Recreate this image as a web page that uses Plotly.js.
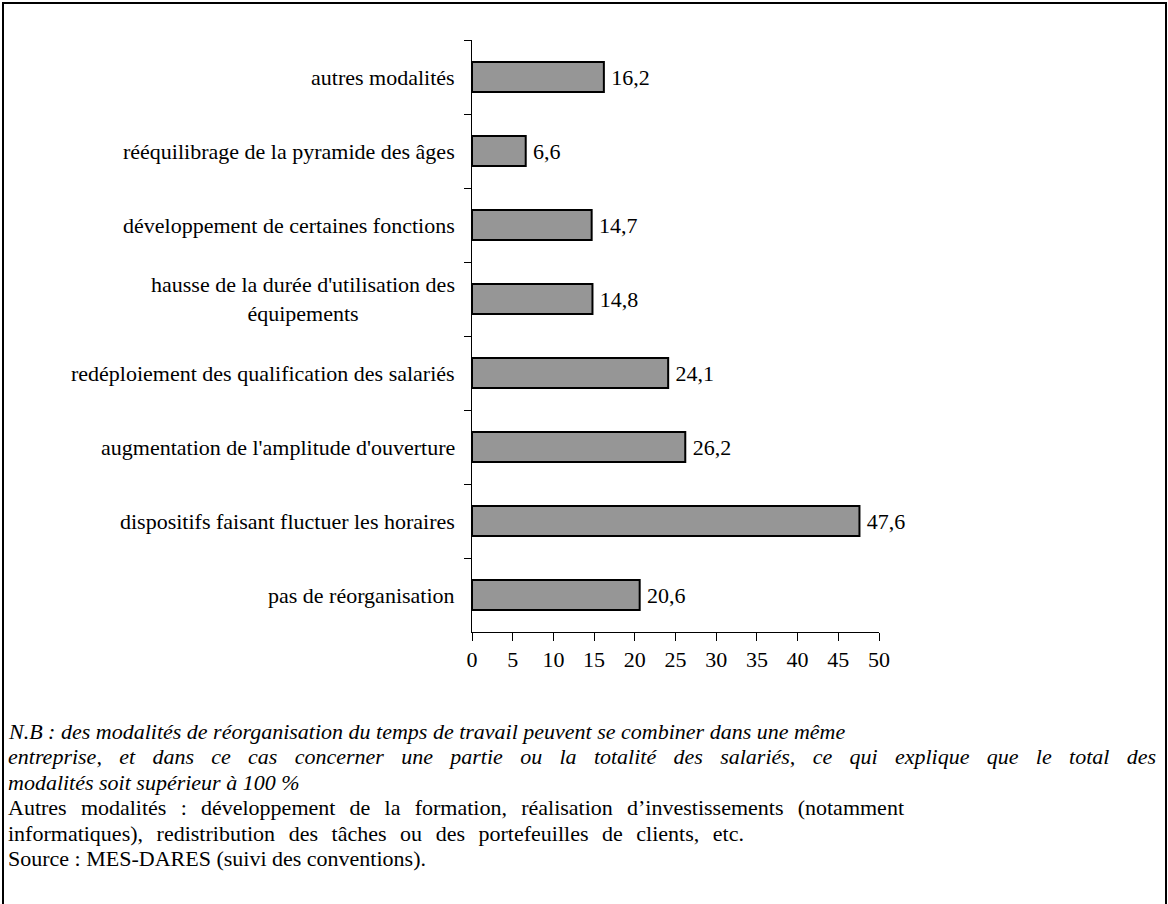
<!DOCTYPE html>
<html>
<head>
<meta charset="utf-8">
<script src="https://cdn.plot.ly/plotly-3.0.1.min.js"></script>
<style>html,body{margin:0;padding:0;background:#fff;}#chart{width:1168px;height:904px;}</style>
</head>
<body>
<div id="chart"></div>
<script>
// Categories, top to bottom
const categories = [
  "autres modalités",
  "rééquilibrage de la pyramide des âges",
  "développement de certaines fonctions",
  "hausse de la durée d'utilisation des<br>équipements",
  "redéploiement des qualification des salariés",
  "augmentation de l'amplitude d'ouverture",
  "dispositifs faisant fluctuer les horaires",
  "pas de réorganisation"
];
const values = [16.2, 6.6, 14.7, 14.8, 24.1, 26.2, 47.6, 20.6];
const xTicks = [0, 5, 10, 15, 20, 25, 30, 35, 40, 45, 50];
const noteLines = [
  "<i>N.B : des modalités de réorganisation du temps de travail peuvent se combiner dans une même</i>",
  "<i>entreprise, et dans ce cas concerner une partie ou la totalité des salariés, ce qui explique que le total des</i>",
  "<i>modalités soit supérieur à 100 %</i>",
  "Autres modalités : développement de la formation, réalisation d’investissements (notamment",
  "informatiques), redistribution des tâches ou des portefeuilles de clients, etc.",
  "Source : MES-DARES (suivi des conventions)."
];

const FONT = "Liberation Serif";
const L = 472, R = 879, T = 40, B = 632;
const pw = R - L, ph = B - T;
const px2x = p => (p - L) / pw;
const py2y = p => (B - p) / ph;

const labels = values.map(v => '\u2009' + v.toFixed(1).replace('.', ','));

const trace = {
  type: 'bar',
  orientation: 'h',
  x: values,
  y: categories,
  text: labels,
  textposition: 'outside',
  cliponaxis: false,
  textfont: {family: FONT, size: 22, color: '#000'},
  marker: {color: '#969696', line: {color: '#000', width: 2}},
  hoverinfo: 'none'
};

const annotations = [];
categories.forEach(c => {
  annotations.push({
    xref: 'paper', yref: 'y', x: 0, y: c, xanchor: 'right', yanchor: 'middle',
    xshift: -15, text: c, showarrow: false, align: 'center',
    font: {family: FONT, size: 22, color: '#000'}
  });
});
// footnote line layout: pixel centres, and justified right ends (null = natural)
const NOTE_X0 = 9;
const noteY = [731, 756.5, 782, 807.5, 833, 858.5];
const noteEnd = [null, 1157, null, 905, 745, null];
noteLines.forEach((t, i) => {
  annotations.push({
    xref: 'paper', yref: 'paper', x: px2x(NOTE_X0 - 3), y: py2y(noteY[i]),
    xanchor: 'left', yanchor: 'middle', text: t, showarrow: false, align: 'left',
    font: {family: FONT, size: 22, color: '#000'}
  });
});

const layout = {
  width: 1168, height: 904,
  margin: {l: L, r: 1168 - R, t: T, b: 904 - B, pad: 0},
  paper_bgcolor: '#fff', plot_bgcolor: '#fff',
  showlegend: false,
  bargap: 0.595,
  font: {family: FONT, size: 22, color: '#000'},
  xaxis: {
    range: [0, 50], tickvals: xTicks, ticktext: xTicks.map(String),
    showgrid: false, zeroline: false, showline: true, linecolor: '#000', linewidth: 1,
    ticks: 'outside', ticklen: 8, tickcolor: '#000', tickwidth: 1,
    tickfont: {family: FONT, size: 22, color: '#000'}, fixedrange: true
  },
  yaxis: {
    type: 'category', categoryorder: 'array', categoryarray: categories,
    range: [7.5, -0.5],
    showgrid: false, zeroline: false, showline: true, linecolor: '#000', linewidth: 1,
    ticks: 'outside', tickson: 'boundaries', ticklen: 7, tickcolor: '#000', tickwidth: 1,
    showticklabels: false, fixedrange: true
  },
  annotations: annotations,
  shapes: [{
    type: 'rect', xref: 'paper', yref: 'paper',
    x0: px2x(3), x1: px2x(1166), y0: py2y(910), y1: py2y(3),
    line: {color: '#000', width: 2}, fillcolor: 'rgba(0,0,0,0)', layer: 'below'
  }]
};

Plotly.newPlot('chart', [trace], layout, {displayModeBar: false, staticPlot: true}).then(gd => {
  // justify some footnote lines by widening the word spaces (like the source text)
  const texts = gd.querySelectorAll('.annotation-text');
  texts.forEach(el => {
    const u = el.getAttribute('data-unformatted');
    const i = noteLines.indexOf(u);
    if (i < 0 || noteEnd[i] === null) return;
    const bb = el.getBBox();
    const nSpaces = (el.textContent.match(/ /g) || []).length;
    const extra = (noteEnd[i] - NOTE_X0) - bb.width;
    if (nSpaces > 0 && extra > 0) {
      el.setAttribute('text-anchor', 'start');
      el.setAttribute('x', String(bb.x));
      el.style.wordSpacing = (extra / nSpaces) + 'px';
    }
  });
});
</script>
</body>
</html>
